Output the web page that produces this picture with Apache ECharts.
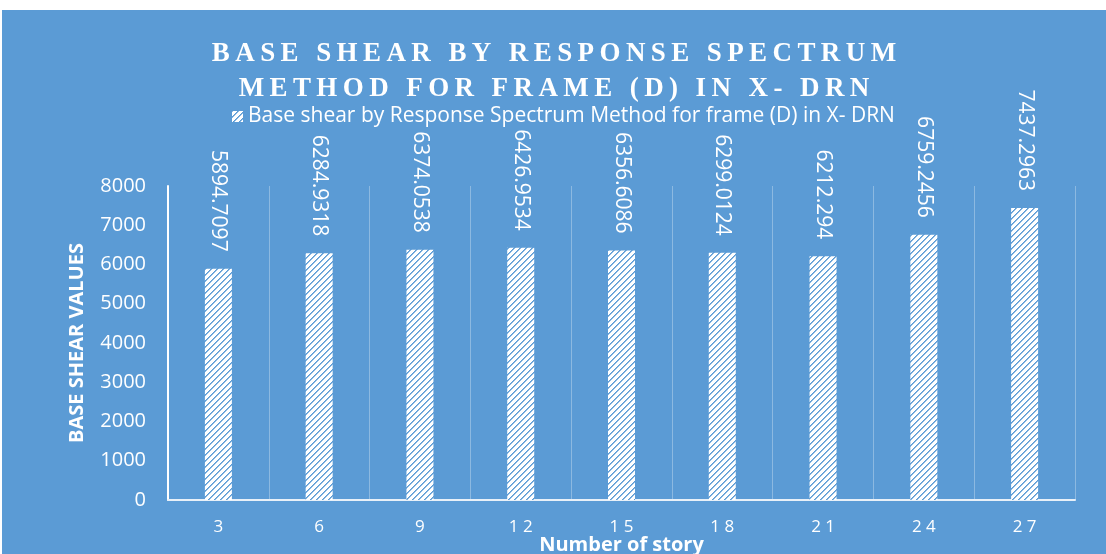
<!DOCTYPE html>
<html>
<head>
<meta charset="utf-8">
<script src="https://cdn.jsdelivr.net/npm/echarts@6/dist/echarts.min.js"></script>
<style>
  html, body { margin: 0; padding: 0; background: #ffffff; }
  #chart { position: absolute; left: 2px; top: 10px; width: 1104px; height: 544px; }
</style>
</head>
<body>
<div id="chart"></div>
<script>
// Number of stories for each frame model
const stories = ['3', '6', '9', '12', '15', '18', '21', '24', '27'];
// Base shear from the response spectrum analysis, X direction
const baseShear = [5894.7097, 6284.9318, 6374.0538, 6426.9534, 6356.6086, 6299.0124, 6212.294, 6759.2456, 7437.2963];
const seriesName = 'Base shear by Response Spectrum Method for frame (D) in X- DRN';
const titleLines = ['BASE SHEAR BY RESPONSE SPECTRUM', 'METHOD FOR FRAME (D) IN X- DRN'];

const BG = '#5B9BD5';

// Diagonal hatch tile: white with thin blue "/" stripes
function hatchTile() {
  const c = document.createElement('canvas');
  const n = 6;
  c.width = n; c.height = n;
  const g = c.getContext('2d');
  g.fillStyle = '#ffffff';
  g.fillRect(0, 0, n, n);
  for (let i = 0; i < n; i++) {
    g.fillStyle = BG;
    g.fillRect(i, n - 1 - i, 1, 1);
    g.fillStyle = 'rgba(91,155,213,0.7)';
    g.fillRect((i + 1) % n, n - 1 - i, 1, 1);
  }
  return c;
}
const hatch = { image: hatchTile(), repeat: 'repeat' };

// Spread characters apart (tick labels and the wide-tracked title)
const spaced = (v, sep) => String(v).split('').join(sep);

const chart = echarts.init(document.getElementById('chart'), null, { renderer: 'canvas' });
chart.setOption({
  backgroundColor: BG,
  animation: false,
  title: {
    text: titleLines.map(t => spaced(t, '\u2009')).join('\n'),
    left: 'center',
    top: 22,
    textStyle: {
      color: '#ffffff',
      fontFamily: '"Liberation Serif", "DejaVu Serif", serif',
      fontWeight: 'bold',
      fontSize: 27,
      lineHeight: 35
    }
  },
  legend: {
    data: [seriesName],
    top: 91,
    left: 225,
    itemWidth: 11,
    itemHeight: 11,
    itemGap: 5,
    icon: 'rect',
    textStyle: { color: '#ffffff', fontSize: 21, fontFamily: '"Open Sans", sans-serif' }
  },
  grid: { left: 166, right: 31, top: 176, bottom: 54, containLabel: false, outerBoundsMode: 'none' },
  xAxis: {
    type: 'category',
    data: stories,
    name: 'Number of story',
    nameLocation: 'middle',
    nameGap: 35,
    nameMoveOverlap: false,
    nameTextStyle: { color: '#ffffff', fontSize: 20, fontWeight: 'bold', fontFamily: '"Open Sans", sans-serif' },
    axisLine: { show: true, lineStyle: { color: '#e8f0f8', width: 2 } },
    axisTick: { show: false },
    splitLine: { show: true, lineStyle: { color: 'rgba(255,255,255,0.3)', width: 1 } },
    axisLabel: {
      color: '#ffffff', fontSize: 17, margin: 19,
      fontFamily: '"Open Sans", sans-serif',
      formatter: v => spaced(v, ' ')
    }
  },
  yAxis: {
    type: 'value',
    min: 0, max: 8000, interval: 1000,
    name: 'BASE SHEAR VALUES',
    nameLocation: 'middle',
    nameGap: 81,
    nameMoveOverlap: false,
    nameTextStyle: { color: '#ffffff', fontSize: 20, fontWeight: 'bold', fontFamily: '"Open Sans", sans-serif' },
    axisLine: { show: true, lineStyle: { color: '#ffffff', width: 2 } },
    axisTick: { show: false },
    splitLine: { show: false },
    axisLabel: {
      color: '#ffffff', fontSize: 20, margin: 22,
      fontFamily: '"Open Sans", sans-serif',
      formatter: v => String(v)
    }
  },
  series: [{
    name: seriesName,
    type: 'bar',
    data: baseShear,
    barWidth: 27,
    itemStyle: { color: hatch },
    label: {
      show: true,
      position: 'top',
      distance: 17,
      rotate: -90,
      align: 'right',
      verticalAlign: 'middle',
      color: '#ffffff',
      fontSize: 21,
      fontFamily: '"Open Sans", sans-serif',
      formatter: p => String(p.value)
    }
  }]
});
</script>
</body>
</html>
